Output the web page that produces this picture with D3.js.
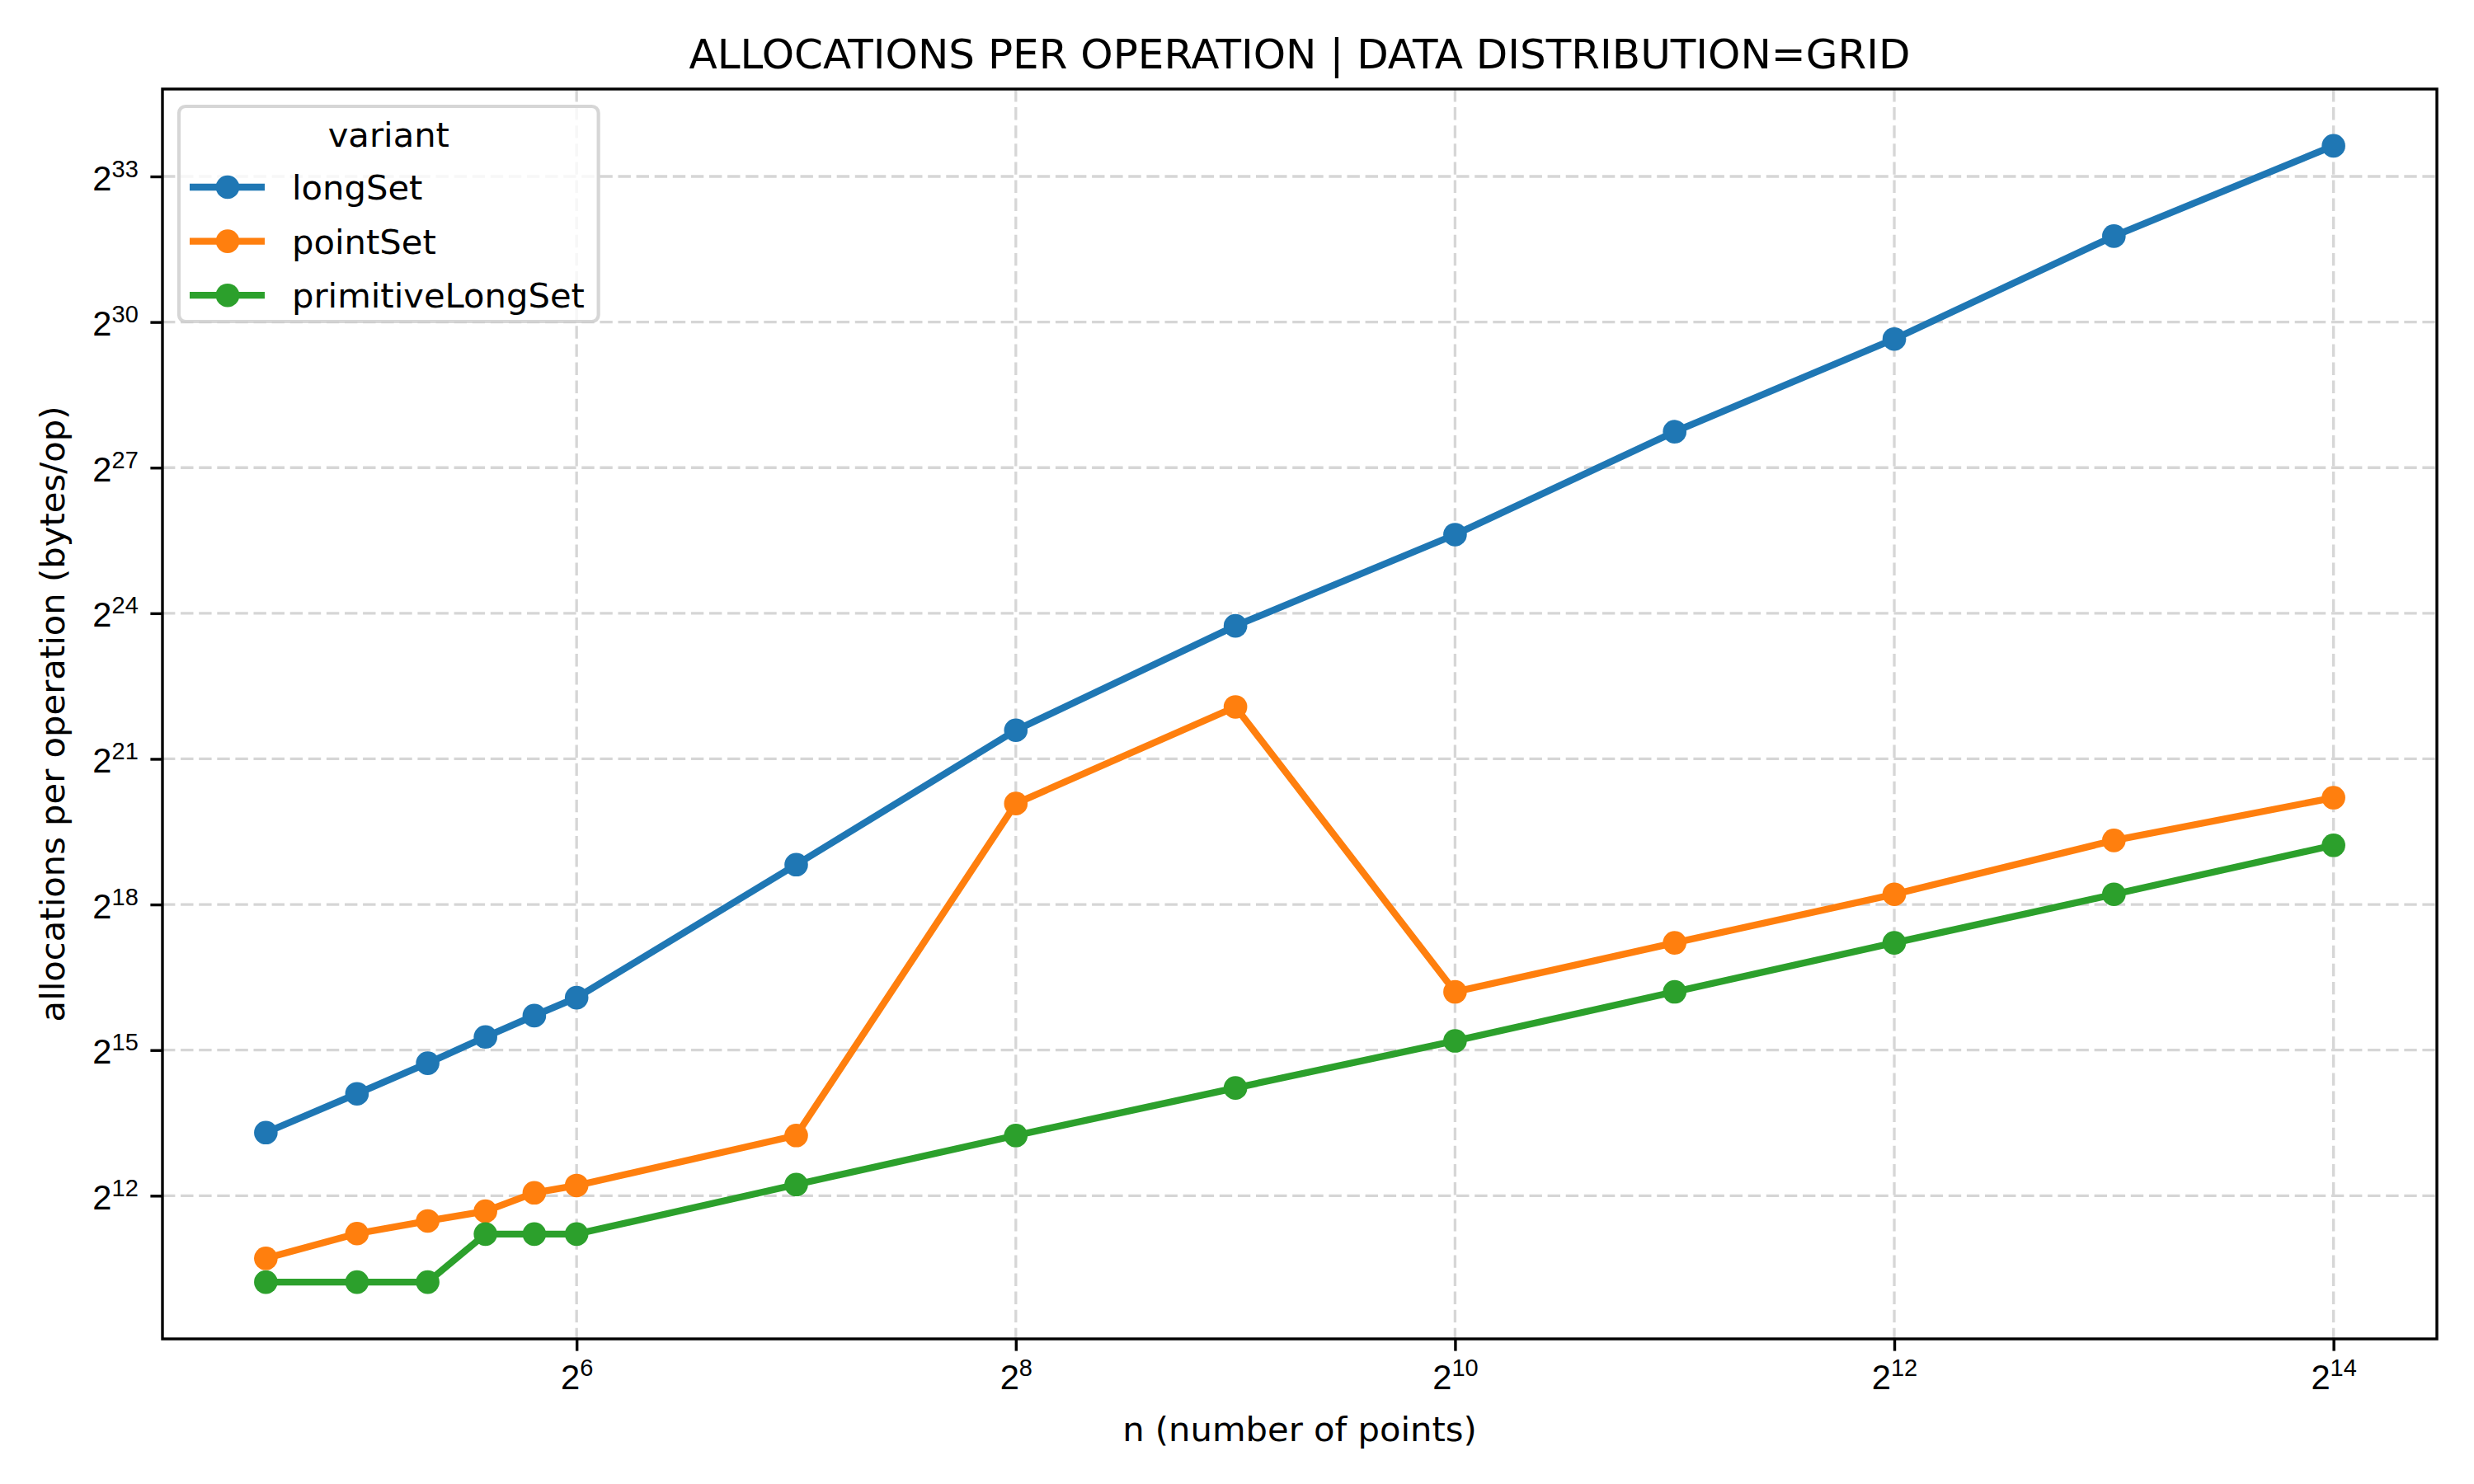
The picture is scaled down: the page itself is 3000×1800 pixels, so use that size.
<!DOCTYPE html>
<html>
<head>
<meta charset="utf-8">
<script src="https://cdn.jsdelivr.net/npm/d3@7"></script>
<style>
  body { margin: 0; background: #fff; }
  svg { display: block; font-family: "DejaVu Sans", sans-serif; }
</style>
</head>
<body>
<svg id="chart" width="3000" height="1800"></svg>
<script>
// x values: number of points
const nPoints = [24, 32, 40, 48, 56, 64, 128, 256, 512, 1024, 2048, 4096, 8192, 16384];

// bytes/op for each variant
const longSet = [10085, 17560, 27180, 39510, 53600, 69270, 462800, 3156600, 14011000,
  51570000, 224170000, 842470000, 3662000000, 13294000000];
const pointSet = [1675, 2385, 2856, 3281, 4270, 4738, 9675, 1108300, 4402800,
  75280, 151600, 303200, 654500, 1204500];
const primitiveLongSet = [1193, 1193, 1193, 2369, 2369, 2369, 4804, 9675, 19080,
  37380, 75280, 151600, 303200, 610640];

const seriesNames = ["longSet", "pointSet", "primitiveLongSet"];
const seriesColors = ["#1f77b4", "#ff7f0e", "#2ca02c"];

// tick exponents (base 2)
const xTickExps = [6, 8, 10, 12, 14];
const yTickExps = [12, 15, 18, 21, 24, 27, 30, 33];

const titleText = "ALLOCATIONS PER OPERATION | DATA DISTRIBUTION=GRID";
const xLabel = "n (number of points)";
const yLabel = "allocations per operation (bytes/op)";
const legendTitle = "variant";

const series = [longSet, pointSet, primitiveLongSet].map((vals, i) => ({
  name: seriesNames[i],
  color: seriesColors[i],
  points: vals.map((v, j) => ({ x: nPoints[j], y: v }))
}));

const svg = d3.select("#chart");
const margin = { top: 108, right: 45, bottom: 176, left: 197 };
const width = 3000 - margin.left - margin.right;
const height = 1800 - margin.top - margin.bottom;

const fontSize = 41.7;
const tickLen = 14.6;

// matplotlib style 5% margin in log space
function padLog(vals) {
  const lo = Math.log2(d3.min(vals)), hi = Math.log2(d3.max(vals));
  const pad = (hi - lo) * 0.05;
  return [2 ** (lo - pad), 2 ** (hi + pad)];
}

const allY = longSet.concat(pointSet, primitiveLongSet);

const xScale = d3.scaleLog().base(2).domain(padLog(nPoints)).range([0, width]);
const yScale = d3.scaleLog().base(2).domain(padLog(allY)).range([height, 0]);

const g = svg.append("g")
  .attr("transform", `translate(${margin.left},${margin.top})`);

// grid
const grid = g.append("g")
  .attr("stroke", "#d6d6d6")
  .attr("stroke-width", 3.3)
  .attr("stroke-dasharray", "15.4 6.7");

grid.selectAll(".gx")
  .data(xTickExps)
  .enter()
  .append("line")
  .attr("x1", (d) => xScale(2 ** d))
  .attr("x2", (d) => xScale(2 ** d))
  .attr("y1", 0)
  .attr("y2", height);

grid.selectAll(".gy")
  .data(yTickExps)
  .enter()
  .append("line")
  .attr("x1", 0)
  .attr("x2", width)
  .attr("y1", (d) => yScale(2 ** d))
  .attr("y2", (d) => yScale(2 ** d));

// lines + markers
const line = d3.line()
  .x((d) => xScale(d.x))
  .y((d) => yScale(d.y));

series.forEach((s) => {
  const sg = g.append("g");
  sg.append("path")
    .datum(s.points)
    .attr("d", line)
    .attr("fill", "none")
    .attr("stroke", s.color)
    .attr("stroke-width", 8.3)
    .attr("stroke-linejoin", "round")
    .attr("stroke-linecap", "butt");
  sg.selectAll("circle")
    .data(s.points)
    .enter()
    .append("circle")
    .attr("cx", (d) => xScale(d.x))
    .attr("cy", (d) => yScale(d.y))
    .attr("r", 14.3)
    .attr("fill", s.color);
});

// power-of-two label with superscript
function powLabel(text, exp) {
  text.append("tspan").text("2");
  text.append("tspan").attr("dy", -16).attr("font-size", 29).text(exp);
}

// x-axis
const xAxis = g.append("g")
  .attr("transform", `translate(0, ${height})`)
  .call(d3.axisBottom(xScale)
    .tickValues(xTickExps.map((e) => 2 ** e))
    .tickSize(tickLen)
    .tickSizeOuter(0)
    .tickFormat(() => ""));
xAxis.select(".domain").remove();
xAxis.selectAll(".tick line").attr("stroke", "#000").attr("stroke-width", 3.4);
xAxis.selectAll(".tick text").remove();
xAxis.selectAll(".tick").each(function (d) {
  const t = d3.select(this).append("text")
    .attr("y", 61)
    .attr("text-anchor", "middle")
    .attr("fill", "#000")
    .attr("font-size", fontSize);
  powLabel(t, Math.round(Math.log2(d)));
});

// y-axis
const yAxis = g.append("g")
  .call(d3.axisLeft(yScale)
    .tickValues(yTickExps.map((e) => 2 ** e))
    .tickSize(tickLen)
    .tickSizeOuter(0)
    .tickFormat(() => ""));
yAxis.select(".domain").remove();
yAxis.selectAll(".tick line").attr("stroke", "#000").attr("stroke-width", 3.4);
yAxis.selectAll(".tick text").remove();
yAxis.selectAll(".tick").each(function (d) {
  const t = d3.select(this).append("text")
    .attr("x", -2 * tickLen)
    .attr("y", 16)
    .attr("text-anchor", "end")
    .attr("fill", "#000")
    .attr("font-size", fontSize);
  powLabel(t, Math.round(Math.log2(d)));
});

// spines
g.append("rect")
  .attr("width", width)
  .attr("height", height)
  .attr("fill", "none")
  .attr("stroke", "#000")
  .attr("stroke-width", 3.4);

// title and axis labels
svg.append("text")
  .attr("x", margin.left + width / 2)
  .attr("y", 83)
  .attr("text-anchor", "middle")
  .attr("font-size", 50)
  .text(titleText);

svg.append("text")
  .attr("x", margin.left + width / 2)
  .attr("y", 1748)
  .attr("text-anchor", "middle")
  .attr("font-size", fontSize)
  .text(xLabel);

svg.append("text")
  .attr("transform", `translate(78, ${margin.top + height / 2}) rotate(-90)`)
  .attr("text-anchor", "middle")
  .attr("font-size", fontSize)
  .text(yLabel);

// legend
const legend = g.append("g").attr("transform", "translate(20, 21)");
const frame = legend.append("rect")
  .attr("rx", 8)
  .attr("fill", "#fff")
  .attr("fill-opacity", 0.8)
  .attr("stroke", "#cccccc")
  .attr("stroke-opacity", 0.8)
  .attr("stroke-width", 4.2)
  .attr("height", 261);

const entries = legend.selectAll(".entry")
  .data(series)
  .enter()
  .append("g")
  .attr("transform", (d, i) => `translate(0, ${98 + i * 65.6})`);

entries.append("line")
  .attr("x1", 13)
  .attr("x2", 104)
  .attr("stroke", (d) => d.color)
  .attr("stroke-width", 8.3);
entries.append("circle")
  .attr("cx", 59)
  .attr("r", 14.3)
  .attr("fill", (d) => d.color);
const labels = entries.append("text")
  .attr("x", 137)
  .attr("y", 15)
  .attr("font-size", fontSize)
  .text((d) => d.name);

let maxLen = 0;
labels.each(function () { maxLen = Math.max(maxLen, this.getComputedTextLength()); });
const frameW = 137 + maxLen + 16.7;
frame.attr("width", frameW);

legend.append("text")
  .attr("x", frameW / 2)
  .attr("y", 49)
  .attr("text-anchor", "middle")
  .attr("font-size", fontSize)
  .text(legendTitle);
</script>
</body>
</html>
